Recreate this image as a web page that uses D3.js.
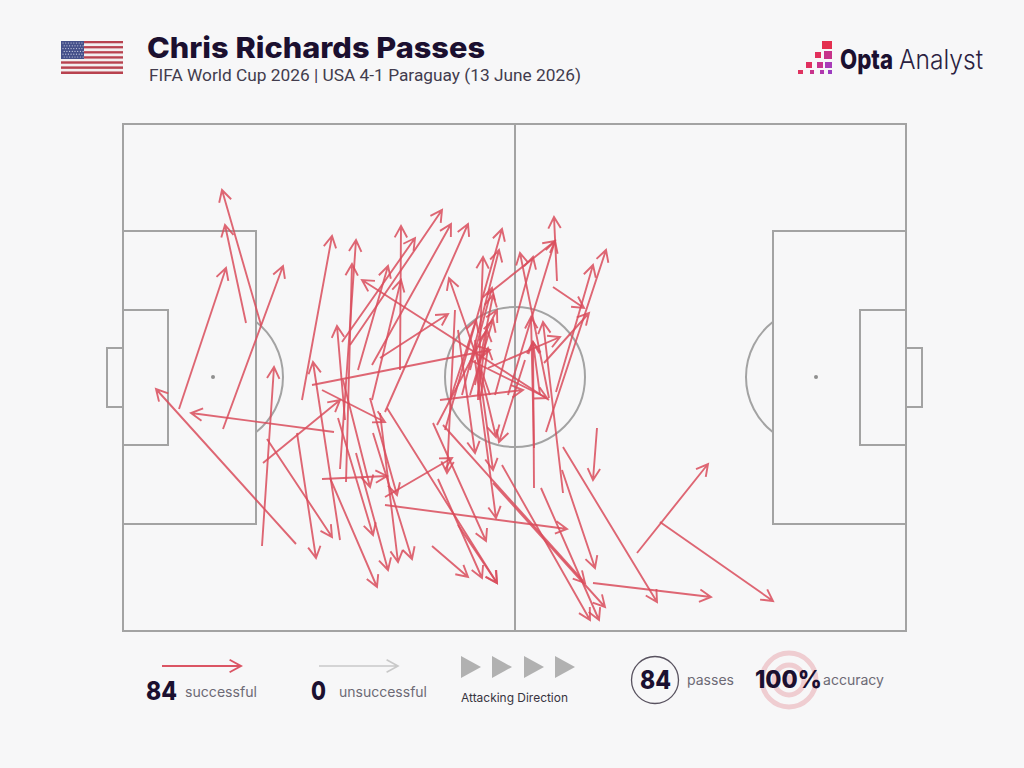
<!DOCTYPE html>
<html><head><meta charset="utf-8">
<script src="https://cdn.jsdelivr.net/npm/d3@7"></script>
<style>html,body{margin:0;padding:0;background:#f7f7f8}svg{display:block}</style>
</head><body><svg id="c" width="1024" height="768"></svg>
<script>
// Pass start/end positions, measured along and across the pitch (pitch = 78.3 x 50.7 units)
const startX=[13.8,12.3,5.6,10.0,17.3,21.1,13.9,14.0,14.4,17.4,17.9,21.7,21.7,22.3,22.2,23.5,27.7,21.9,24.9,42.6,18.9,25.7,22.7,24.9,26.2,36.7,32.2,33.9,35.5,34.7,35.2,36.4,38.5,43.4,43.0,42.3,43.3,42.1,31.7,44.0,43.9,41.8,37.9,32.0,37.0,26.4,31.5,33.5,30.9,31.0,26.2,26.2,33.2,33.5,35.2,35.2,40.2,35.7,41.1,41.1,44.0,47.0,51.4,53.7,47.4,19.9,20.7,21.5,23.3,19.9,22.0,24.7,25.0,25.7,42.6,37.2,35.7,36.5,41.7,34.7,35.5,34.7,32.7,31.4];
const startY=[20.1,19.9,28.5,30.5,42.0,30.8,42.2,33.9,31.5,30.9,27.6,41.6,34.5,35.8,29.6,24.6,24.6,21.8,27.6,27.6,26.1,23.4,22.1,24.1,28.8,27.1,30.6,27.1,27.6,24.6,26.1,17.1,27.1,15.7,16.3,30.8,26.8,23.9,27.6,32.3,34.6,36.4,34.1,30.1,35.9,28.4,35.5,40.1,42.2,29.9,37.3,38.1,18.6,20.6,21.6,23.6,23.6,24.6,36.4,32.4,36.9,45.9,42.9,39.8,30.4,35.5,35.4,29.4,32.9,26.6,25.6,27.4,30.9,28.9,27.4,27.1,27.6,24.4,27.1,23.6,27.1,27.1,27.6,30.1];
const endX=[9.9,10.2,10.3,16.0,3.3,6.8,15.1,21.7,20.9,19.3,20.9,19.0,23.3,22.9,21.4,26.5,27.8,29.2,27.8,23.9,36.7,32.5,31.9,32.8,34.5,32.6,37.9,37.6,36.0,36.9,37.0,43.2,43.2,43.1,46.1,48.3,47.0,46.6,40.0,53.4,47.2,47.6,46.7,46.2,48.2,37.4,35.9,37.4,34.5,36.3,32.9,44.4,32.4,35.2,37.0,37.3,37.6,37.3,41.0,40.8,42.0,58.8,58.5,65.0,47.0,26.4,25.4,25.0,26.5,26.2,24.7,27.4,28.9,27.5,39.7,41.0,36.5,43.7,41.0,42.4,36.4,37.0,35.3,37.4];
const endY=[6.6,10.1,14.4,14.2,26.5,28.9,24.3,27.6,41.3,43.4,11.2,23.8,11.6,14.0,20.2,14.2,10.2,11.4,15.6,15.6,22.6,19.0,8.6,10.0,10.0,15.4,10.5,12.6,13.3,16.4,17.1,11.7,11.7,9.3,18.4,12.6,14.1,18.9,26.6,47.8,44.4,49.6,49.6,45.9,48.3,45.9,45.4,45.9,45.3,41.7,33.4,40.5,34.9,32.9,34.6,39.4,31.8,31.3,21.8,19.3,19.8,47.3,34.0,47.7,35.6,35.2,46.3,41.1,44.6,29.8,36.3,37.1,43.5,43.8,12.9,13.3,22.4,21.3,21.8,27.4,20.6,19.6,19.6,18.6];
const pitchLength=78.3, pitchWidth=50.7;
const titleText="Chris Richards Passes";
const subtitleText="FIFA World Cup 2026 | USA 4-1 Paraguay (13 June 2026)";
const successfulCount=84, unsuccessfulCount=0, totalPasses=84, accuracyText="100%";

const svg=d3.select("#c");
const RED="#d94c5c", LINE="#a3a3a3", INK="#1b1030", MUTED="#6d6a75";
const FONT="Inter, Roboto, sans-serif";
const x=d3.scaleLinear().domain([0,pitchLength]).range([123,906]);
const y=d3.scaleLinear().domain([0,pitchWidth]).range([124,631]);
svg.append("rect").attr("width",1024).attr("height",768).attr("fill","#f7f7f8");

// ---- header
const flag=svg.append("g");
const stripe=d3.scaleBand().domain(d3.range(13)).range([41,74]);
flag.selectAll("rect.s").data(d3.range(13)).join("rect").attr("x",61).attr("width",62)
  .attr("y",d=>stripe(d)).attr("height",stripe.bandwidth())
  .attr("fill",d=>d%2?"#f2eff0":"#b8424f");
flag.append("rect").attr("x",61).attr("y",41).attr("width",23).attr("height",18).attr("fill","#45508a");
for(let r=0;r<6;r++)for(let c=0;c<8;c++)
  flag.append("circle").attr("cx",63+c*2.7+(r%2)*1.2).attr("cy",43+r*2.8).attr("r",0.6).attr("fill","#cdd0e4");

svg.append("text").attr("x",147).attr("y",58).attr("font-family",FONT).attr("font-weight",800)
  .attr("font-size",29).attr("fill",INK).attr("textLength",338).attr("lengthAdjust","spacingAndGlyphs").text(titleText);
svg.append("text").attr("x",149).attr("y",81).attr("font-family","Roboto, sans-serif")
  .attr("font-size",17).attr("fill","#423c4d").attr("textLength",432).attr("lengthAdjust","spacingAndGlyphs").text(subtitleText);

// logo
const logoSquares=[[822,41,10,8,"#e4304f"],[815,52,6,6,"#e2305c"],[824,51,8,8,"#c7338a"],[806,62,6,6,"#e0305f"],[817,62,6,6,"#c9348c"],[825,62,7,6,"#a93cb8"],[798,70,5,4,"#df3360"],[810,70,4,4,"#c8348c"],[820,70,4,4,"#b038ae"],[828,70,4,4,"#9c3cc0"]];
svg.append("g").selectAll("rect").data(logoSquares).join("rect")
  .attr("x",d=>d[0]).attr("y",d=>d[1]).attr("width",d=>d[2]).attr("height",d=>d[3]).attr("fill",d=>d[4]);
svg.append("text").attr("x",840).attr("y",69).attr("font-family",FONT).attr("font-weight",800)
  .attr("font-size",27).attr("fill",INK).attr("textLength",53).attr("lengthAdjust","spacingAndGlyphs").text("Opta");
svg.append("text").attr("x",899).attr("y",69).attr("font-family",FONT).attr("font-weight",300)
  .attr("font-size",27).attr("fill","#2a2140").attr("textLength",84).attr("lengthAdjust","spacingAndGlyphs").text("Analyst");

// ---- pitch
const pitch=svg.append("g").attr("fill","none").attr("stroke",LINE).attr("stroke-width",2);
const R=x(7)-x(0);
const box=(x0,x1,y0,y1)=>pitch.append("rect").attr("x",x(x0)).attr("y",y(y0)).attr("width",x(x1)-x(x0)).attr("height",y(y1)-y(y0));
box(0,pitchLength,0,pitchWidth);
box(0,13.3,10.7,40);
box(0,4.5,18.6,32.1);
box(-1.6,0,22.4,28.3);
box(pitchLength-13.3,pitchLength,10.7,40);
box(pitchLength-4.6,pitchLength,18.6,32.1);
box(pitchLength,pitchLength+1.6,22.4,28.3);
pitch.append("line").attr("x1",x(39.2)).attr("x2",x(39.2)).attr("y1",y(0)).attr("y2",y(pitchWidth));
pitch.append("circle").attr("cx",x(39.2)).attr("cy",y(25.3)).attr("r",R);
const a=Math.acos(4.3/7);
const arc=d3.arc().innerRadius(R).outerRadius(R);
pitch.append("path").attr("transform",`translate(${x(9)},${y(25.3)})`)
  .attr("d",arc({startAngle:Math.PI/2-a,endAngle:Math.PI/2+a}));
pitch.append("path").attr("transform",`translate(${x(pitchLength-9)},${y(25.3)})`)
  .attr("d",arc({startAngle:-Math.PI/2-a,endAngle:-Math.PI/2+a}));
svg.selectAll("circle.spot").data([9,pitchLength-9]).join("circle").attr("class","spot")
  .attr("cx",d=>x(d)).attr("cy",y(25.3)).attr("r",2).attr("fill","#8f8f8f");

// ---- passes
const line=d3.line();
function arrow(g,x0,y0,x1,y1,color,w,len,op){
  const t=Math.atan2(y1-y0,x1-x0), s=0.5;
  g.append("path").attr("fill","none").attr("stroke",color).attr("stroke-width",w).attr("opacity",op)
   .attr("stroke-linejoin","miter")
   .attr("d",line([[x0,y0],[x1,y1]])+line([[x1-len*Math.cos(t-s),y1-len*Math.sin(t-s)],[x1,y1],[x1-len*Math.cos(t+s),y1-len*Math.sin(t+s)]]));
}
const passes=svg.append("g");
startX.forEach((_,i)=>arrow(passes,x(startX[i]),y(startY[i]),x(endX[i]),y(endY[i]),RED,1.9,13,0.85));

// ---- legend
const lab=(t,xx,yy,size,weight,fill,len)=>{const n=svg.append("text").attr("x",xx).attr("y",yy).attr("font-family",FONT)
  .attr("font-size",size).attr("font-weight",weight).attr("fill",fill).text(t);
  if(len)n.attr("textLength",len).attr("lengthAdjust","spacingAndGlyphs");return n;};
const lg=svg.append("g");
arrow(lg,162,666,241,666,RED,1.9,13,0.95);
arrow(lg,319,666,398,666,"#c9c9c9",1.6,13,1);
lab(successfulCount,146,700,26,800,INK,31);
lab("successful",185,697,14,400,MUTED,72);
lab(unsuccessfulCount,311,700,26,800,INK,15);
lab("unsuccessful",339,697,14,400,MUTED,88);
const triX=[461,492,524,555];
svg.selectAll("path.tri").data(triX).join("path").attr("class","tri")
  .attr("d",d=>`M${d},656L${d+20},667L${d},678Z`).attr("fill","#b1b1b1");
lab("Attacking Direction",461,702,12,400,"#38343f",107);
svg.append("circle").attr("cx",655).attr("cy",680).attr("r",23.5).attr("fill","none").attr("stroke","#58525f").attr("stroke-width",1.3);
lab(totalPasses,640,689,26,800,INK,31);
lab("passes",687,685,14,400,MUTED,47);
svg.append("circle").attr("cx",789).attr("cy",680).attr("r",27).attr("fill","none").attr("stroke","#efcdd1").attr("stroke-width",5);
svg.append("circle").attr("cx",789).attr("cy",680).attr("r",15).attr("fill","none").attr("stroke","#efcdd1").attr("stroke-width",5);
svg.append("circle").attr("cx",789).attr("cy",680).attr("r",5).attr("fill","#efcdd1");
lab(accuracyText,755,688,24,800,INK,67);
lab("accuracy",823,685,14,400,MUTED,61);
</script></body></html>
